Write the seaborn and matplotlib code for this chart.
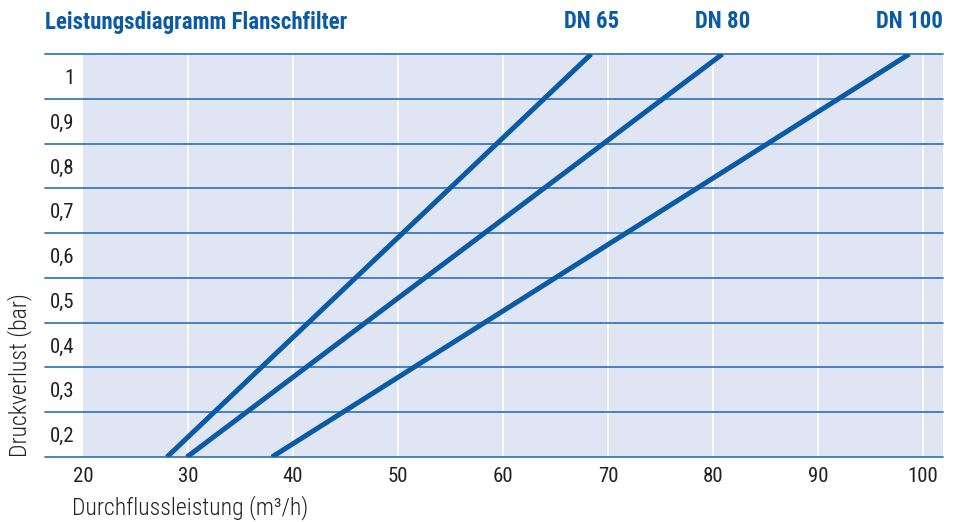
import matplotlib
matplotlib.use("Agg")
import matplotlib.pyplot as plt
import matplotlib.transforms as mtransforms
import seaborn as sns
import pandas as pd

# Werte
series_names = ["DN 65", "DN 80", "DN 100"]
flow_start = [28.0, 29.9, 38.0]      # m3/h bei 0,15 bar
flow_end = [68.4, 80.9, 98.7]        # m3/h bei 1,05 bar
pressure_range = [0.15, 1.05]
x_ticks = [20, 30, 40, 50, 60, 70, 80, 90, 100]
y_ticks = [0.2, 0.3, 0.4, 0.5, 0.6, 0.7, 0.8, 0.9, 1.0]
y_labels = ["0,2", "0,3", "0,4", "0,5", "0,6", "0,7", "0,8", "0,9", "1"]
band_lines = [0.15, 0.25, 0.35, 0.45, 0.55, 0.65, 0.75, 0.85, 0.95, 1.05]

BLUE = "#0b5aa6"
GRID_BLUE = "#3b78bd"
SHADE = "#dfe5f2"
TEXT = "#231f20"

sns.set_theme(style="white")
plt.rcParams["font.family"] = ["Roboto Condensed", "Liberation Sans Narrow",
                               "Roboto", "DejaVu Sans"]

rows = []
for name, x0, x1 in zip(series_names, flow_start, flow_end):
    rows.append({"serie": name, "flow": x0, "druck": pressure_range[0]})
    rows.append({"serie": name, "flow": x1, "druck": pressure_range[1]})
df = pd.DataFrame(rows)

fig = plt.figure(figsize=(9.58, 5.22), dpi=100)
ax = fig.add_axes([0.0866, 0.1245, 0.8977, 0.772])
ax.set_facecolor(SHADE)

for x in x_ticks[1:]:
    ax.axvline(x, color="white", lw=1.2, zorder=1)
for y in band_lines:
    ax.axhline(y, xmin=-0.0442, xmax=1, color=GRID_BLUE, lw=1.3,
               clip_on=False, zorder=2)

sns.lineplot(data=df, x="flow", y="druck", hue="serie",
             palette=[BLUE] * 3, legend=False, lw=3.6, ax=ax, zorder=3,
             solid_capstyle="butt")

ax.set_xlim(20, 101.9)
ax.set_ylim(0.15, 1.05)
ax.set_xticks(x_ticks)
ax.set_xticklabels([str(v) for v in x_ticks])
ax.set_yticks(y_ticks)
ax.set_yticklabels(y_labels)
ax.tick_params(axis="both", length=0, labelsize=15, colors=TEXT)
ax.tick_params(axis="x", pad=7)
ax.tick_params(axis="y", pad=6)
for s in ax.spines.values():
    s.set_visible(False)

ax.set_xlabel("")
ax.set_ylabel("")
fig.text(72 / 958, 1 - 508 / 522, "Durchflussleistung (m³/h)", fontsize=17,
         fontweight="light", color=TEXT, ha="left", va="center")
fig.text(20 / 958, 1 - 457 / 522, "Druckverlust (bar)", fontsize=17,
         fontweight="light", color=TEXT, rotation=90, ha="center",
         va="bottom")

fig.text(45 / 958, 1 - 22 / 522, "Leistungsdiagramm Flanschfilter",
         fontsize=16.5, fontweight="bold", color=BLUE, ha="left",
         va="center")

trans = mtransforms.blended_transform_factory(ax.transData, fig.transFigure)
for name, x1 in zip(series_names, flow_end):
    ax.text(x1, 1 - 22 / 522, name, transform=trans, fontsize=16.5,
            fontweight="bold", color=BLUE, ha="center", va="center")

fig.savefig("out.png", dpi=100)
